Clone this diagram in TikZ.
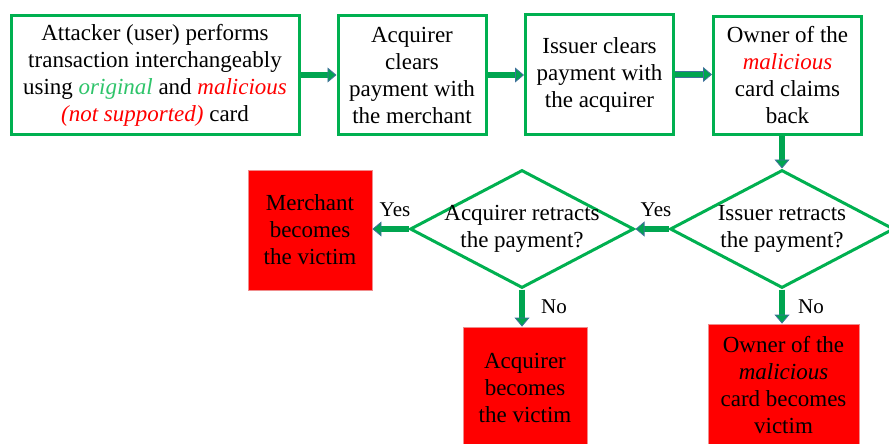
\documentclass[tikz,border=0pt]{standalone}
\usepackage{fontspec}
\setmainfont{Liberation Serif}
\newfontfamily\tnr{Liberation Serif}
\usetikzlibrary{arrows.meta,shapes.geometric}
\definecolor{boxgreen}{HTML}{00B050}
\definecolor{shaftgreen}{HTML}{00A550}
\definecolor{rimblue}{HTML}{41719C}
\definecolor{victimred}{HTML}{FF0000}
\definecolor{victimrim}{HTML}{F08C8C}
\definecolor{softgreen}{HTML}{2EC46A}
\begin{document}
\begin{tikzpicture}[x=1pt,y=-1pt,
  txt/.style={font=\tnr\fontsize{23}{27}\selectfont, align=center},
  stepbox/.style={txt, draw=boxgreen, line width=3pt, fill=white, inner sep=0pt},
  decision/.style={diamond, draw=boxgreen, line width=3pt, fill=white, inner sep=0pt, minimum width=224pt, minimum height=118pt},
  victim/.style={txt, draw=victimrim, line width=0.8pt, fill=victimred, inner sep=0pt},
  lab/.style={font=\tnr\fontsize{21}{25}\selectfont, inner sep=0pt},
  flow/.style={line width=5.2pt, draw=shaftgreen,
    -{Triangle[length=9pt,width=15pt,line width=0.8pt,fill=shaftgreen,color=rimblue]},
    preaction={draw=rimblue, line width=6.8pt, -, shorten >=8pt}},
]
\useasboundingbox (0,0) rectangle (889,444);
\clip (0,0) rectangle (889,444);

% top row of process steps
\node[stepbox, minimum width=288pt, minimum height=118pt] (b1) at (155,75)
  {Attacker (user) performs\\transaction interchangeably\\using \textcolor{softgreen}{\textit{original}} and \textcolor{victimred}{\textit{malicious}}\\\textcolor{victimred}{\textit{(not supported)}} card};
\node[stepbox, minimum width=148pt, minimum height=118pt] (b2) at (412,75)
  {Acquirer\\clears\\payment with\\the merchant};
\node[stepbox, minimum width=148pt, minimum height=120pt] (b3) at (599.5,74.5)
  {Issuer clears\\payment with\\the acquirer};
\node[stepbox, minimum width=148pt, minimum height=117pt] (b4) at (787.5,75.5)
  {Owner of the\\\textcolor{victimred}{\textit{malicious}}\\card claims\\back};

% decisions
\node[decision] (d1) at (782,229) {};
\node[txt] (d1t) at (d1.center) {Issuer retracts\\the payment?};
\node[decision] (d2) at (522,229) {};
\node[txt] (d2t) at (d2.center) {Acquirer retracts\\the payment?};

% outcomes
\node[victim, minimum width=124pt, minimum height=120pt] (vm) at (310,230)
  {Merchant\\becomes\\the victim};
\node[victim, minimum width=124pt, minimum height=122pt] (va) at (525,388)
  {Acquirer\\becomes\\the victim};
\node[victim, minimum width=151pt, minimum height=122pt] (vo) at (783.5,385)
  {Owner of the\\\textit{malicious}\\card becomes\\victim};

% connectors
\draw[flow] (b1.east) -- (b2.west |- b1.east);
\draw[flow] (b2.east) -- (b3.west |- b2.east);
\draw[flow] (b3.east) -- (b4.west |- b3.east);
\draw[flow] (d1.north |- b4.south) -- (d1.north);
\draw[flow] (d1.west) -- (d2.east);
\draw[flow] (d2.west) -- (vm.east |- d2.west);
\draw[flow] (d2.south) -- (d2.south |- va.north);
\draw[flow] (d1.south) -- (d1.south |- vo.north);

% branch labels
\node[lab] (y1) at (656,210) {Yes};
\node[lab] (y2) at (395,210) {Yes};
\node[lab] (n2) at (554,307) {No};
\node[lab] (n1) at (811,307) {No};
\end{tikzpicture}
\end{document}
